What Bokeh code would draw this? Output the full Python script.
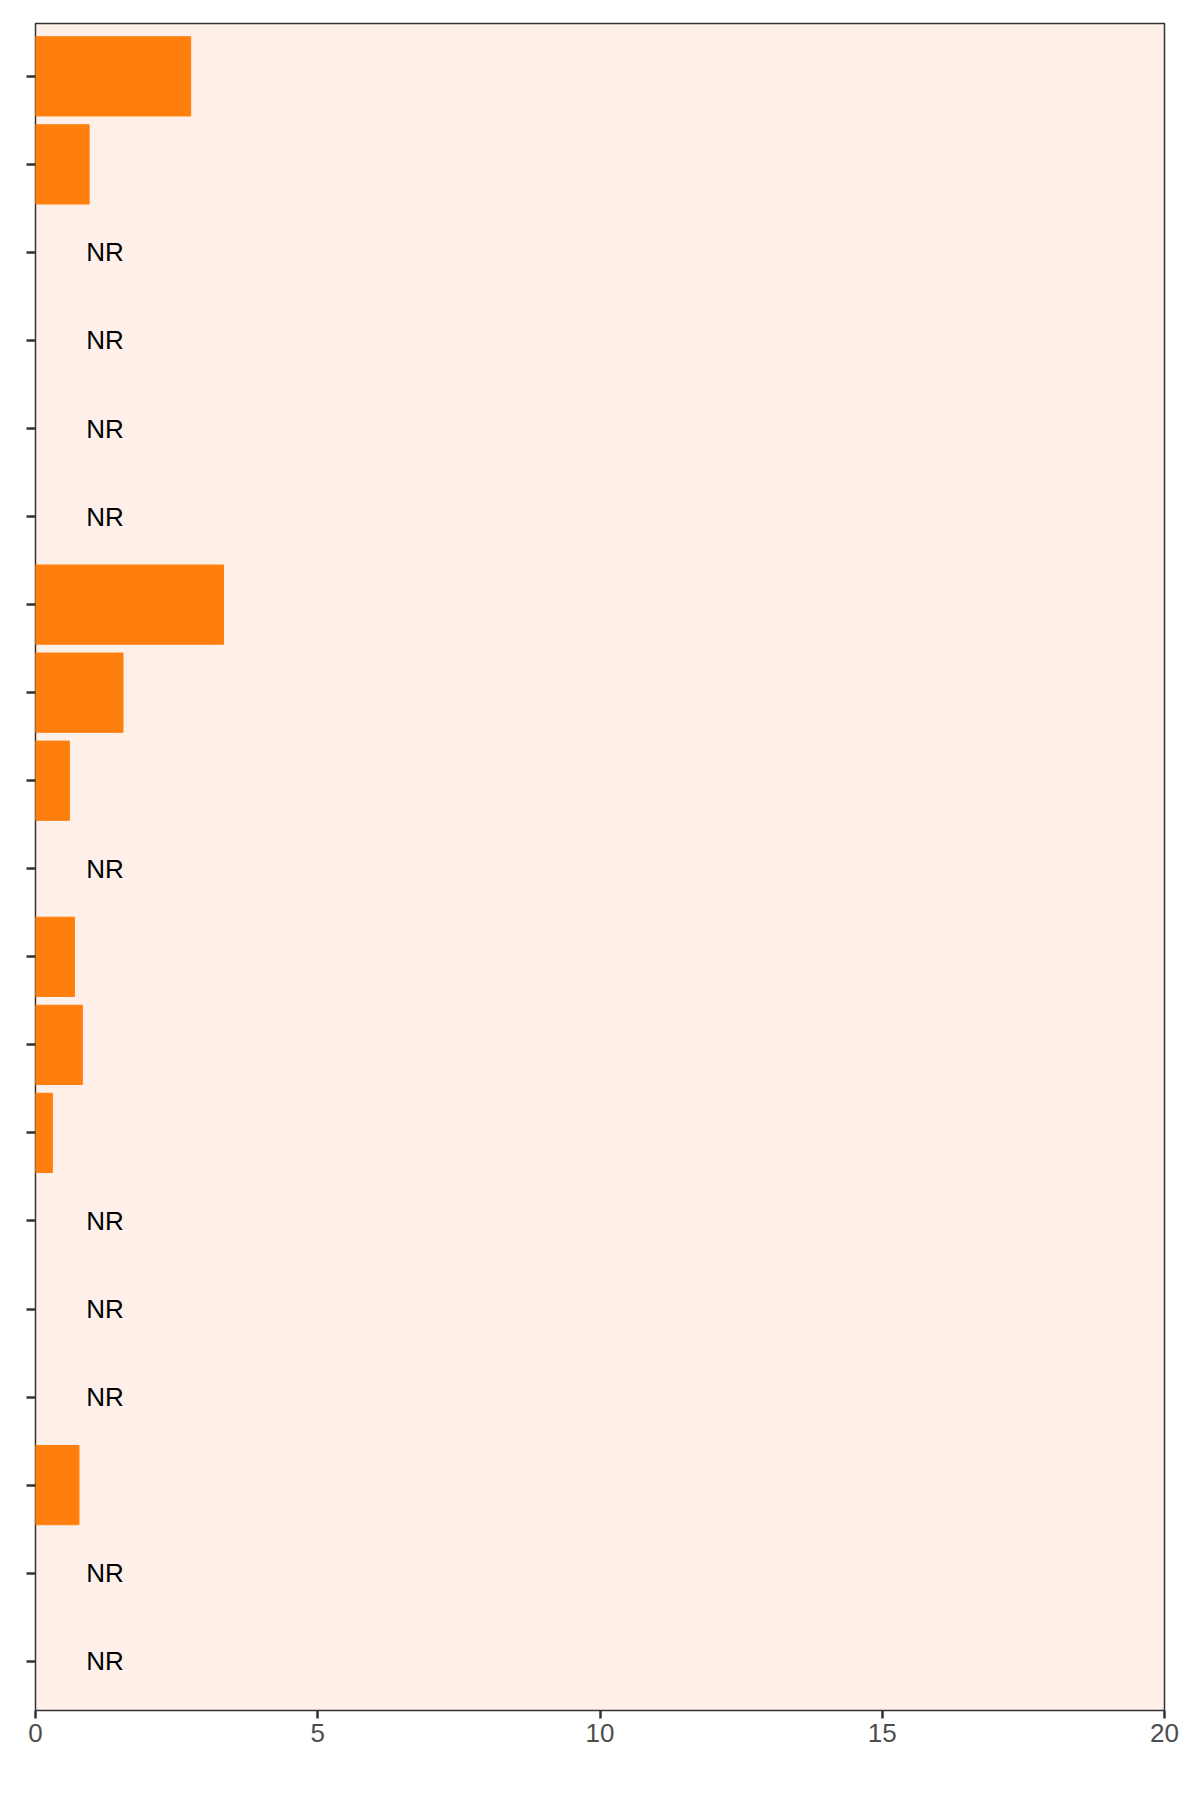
from bokeh.plotting import figure
from bokeh.models import FixedTicker, ColumnDataSource, Range1d
from bokeh.core.properties import value
from bokeh.embed import file_html
from bokeh.resources import INLINE

# rows top to bottom; None = not reported
values = [2.75, 0.95, None, None, None, None, 3.33, 1.55, 0.6, None,
          0.69, 0.83, 0.3, None, None, None, 0.77, None, None]
rows = list(range(len(values)))

bar_y = [r for r, v in zip(rows, values) if v is not None]
bar_v = [v for v in values if v is not None]
nr_y = [r for r, v in zip(rows, values) if v is None]

p = figure(width=1184, height=1780, output_backend="svg", toolbar_location=None,
           x_range=Range1d(0, 20), y_range=Range1d(len(values) - 0.44, -0.6))
p.min_border_left = 35
p.min_border_top = 23
p.min_border_right = 20
p.min_border_bottom = 70
p.background_fill_color = "#fef0e8"
p.border_fill_color = "white"
p.outline_line_color = "#333333"
p.outline_line_width = 1.5
p.grid.visible = False

src = ColumnDataSource(dict(y=bar_y, v=bar_v))
p.hbar(y="y", right="v", left=0, height=0.9, source=src, color="#ff7f0e")
p.text(x=[0.9] * len(nr_y), y=nr_y, text=["NR"] * len(nr_y),
       text_font=value("Liberation Sans"), text_font_size="26px",
       text_baseline="middle", text_color="black")

p.xaxis.ticker = FixedTicker(ticks=[0, 5, 10, 15, 20])
p.xaxis.major_label_text_font = "Liberation Sans"
p.xaxis.major_label_text_font_size = "26px"
p.xaxis.major_label_text_color = "#4d4d4d"
p.xaxis.axis_line_color = None
p.xaxis.major_tick_line_color = "#333333"
p.xaxis.major_tick_line_width = 2.5
p.xaxis.major_tick_out = 8
p.xaxis.major_tick_in = 0
p.xaxis.minor_tick_line_color = None

p.yaxis.ticker = FixedTicker(ticks=rows)
p.yaxis.major_label_overrides = {r: "" for r in rows}
p.yaxis.axis_line_color = None
p.yaxis.major_tick_line_color = "#333333"
p.yaxis.major_tick_line_width = 2.5
p.yaxis.major_tick_out = 9
p.yaxis.major_tick_in = 0
p.yaxis.minor_tick_line_color = None

open("out.html", "w").write(file_html(p, INLINE))
